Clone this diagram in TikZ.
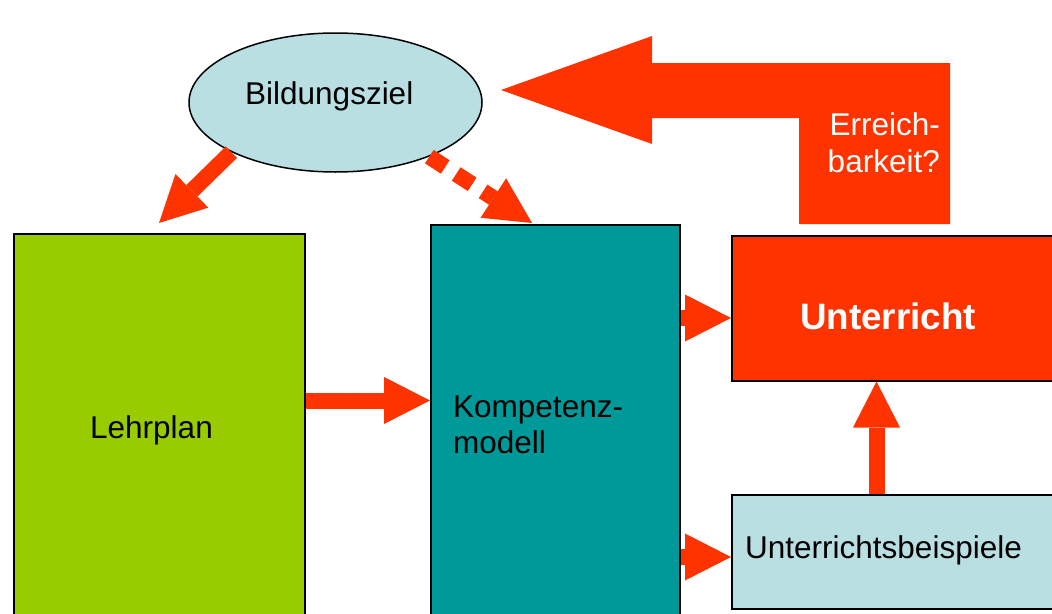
\documentclass[tikz,border=0pt]{standalone}
\usepackage{fontspec}
\setmainfont{Liberation Sans}
\usetikzlibrary{arrows.meta,shapes.geometric}
\definecolor{lblue}{HTML}{B9DFE3}
\definecolor{lgreen}{HTML}{99CC00}
\definecolor{dteal}{HTML}{009999}
\definecolor{ored}{HTML}{FF3300}
\tikzset{
  boxnode/.style={draw=black, line width=1.5pt, inner sep=0pt, anchor=north west, rectangle},
  lbl/.style={inner sep=0pt, font=\fontsize{31.5}{37}\selectfont, text=black},
  blockarrow/.style={draw=ored, line width=16pt, line cap=butt,
     -{Triangle[length=46pt,width=47pt,line width=0pt]}},
}
\begin{document}
\begin{tikzpicture}[x=1pt,y=-1pt]
\path[use as bounding box] (0,0) rectangle (1052,613);
\clip (0,0) rectangle (1052,613);
% boxes
\node[boxnode, fill=lgreen, minimum width=291pt, minimum height=420pt] (lp) at (13,233) {};
\node[boxnode, fill=dteal, minimum width=249pt, minimum height=420pt] (km) at (430,224) {};
\node[boxnode, fill=ored, minimum width=340pt, minimum height=145pt] (ur) at (731,235) {};
\node[boxnode, fill=lblue, minimum width=340pt, minimum height=114pt] (bs) at (731,494) {};
% ellipse
\node[ellipse, draw=black, line width=1.5pt, fill=lblue, minimum width=293pt, minimum height=139pt, inner sep=0pt] (bz) at (335.5,102.5) {};
% texts
\node[lbl, anchor=base west] (tbz) at (245,104) {Bildungsziel};
\node[lbl, anchor=base west] (tlp) at (90,438) {Lehrplan};
\node[lbl, anchor=base west] (tkm1) at (453,417) {Kompetenz-};
\node[lbl, anchor=base west] (tkm2) at (453,453) {modell};
\node[inner sep=0pt, anchor=base west, font=\fontsize{36.8}{44}\selectfont\bfseries, text=white] (tur) at (800,329) {Unterricht};
\node[lbl, anchor=base west] (tbs) at (745,558) {Unterrichtsbeispiele};
% big return arrow
\fill[ored] (501,90) -- (652,36) -- (652,63) -- (950,63) -- (950,224) -- (799,224) -- (799,118) -- (652,118) -- (652,144) -- cycle;
\node[lbl, text=white, anchor=base east] (te1) at (940,135) {Erreich-};
\node[lbl, text=white, anchor=base east] (te2) at (940,172) {barkeit?};
% connectors
\coordinate (t1) at (159,223);
\coordinate (t2) at (532,223);
\draw[blockarrow] (bz.south west) -- (t1);
\draw[blockarrow, dash pattern=on 19pt off 13pt] (bz.-30) -- (t2);
\draw[blockarrow] (lp.east |- 0,400.5) -- (km.west |- 0,400.5);
\draw[blockarrow] (km.east |- 0,318) -- (ur.west |- 0,318);
\draw[blockarrow] (km.east |- 0,557) -- (bs.west |- 0,557);
\draw[blockarrow] (bs.north -| 876.5,0) -- (ur.south -| 876.5,0);
\end{tikzpicture}
\end{document}
